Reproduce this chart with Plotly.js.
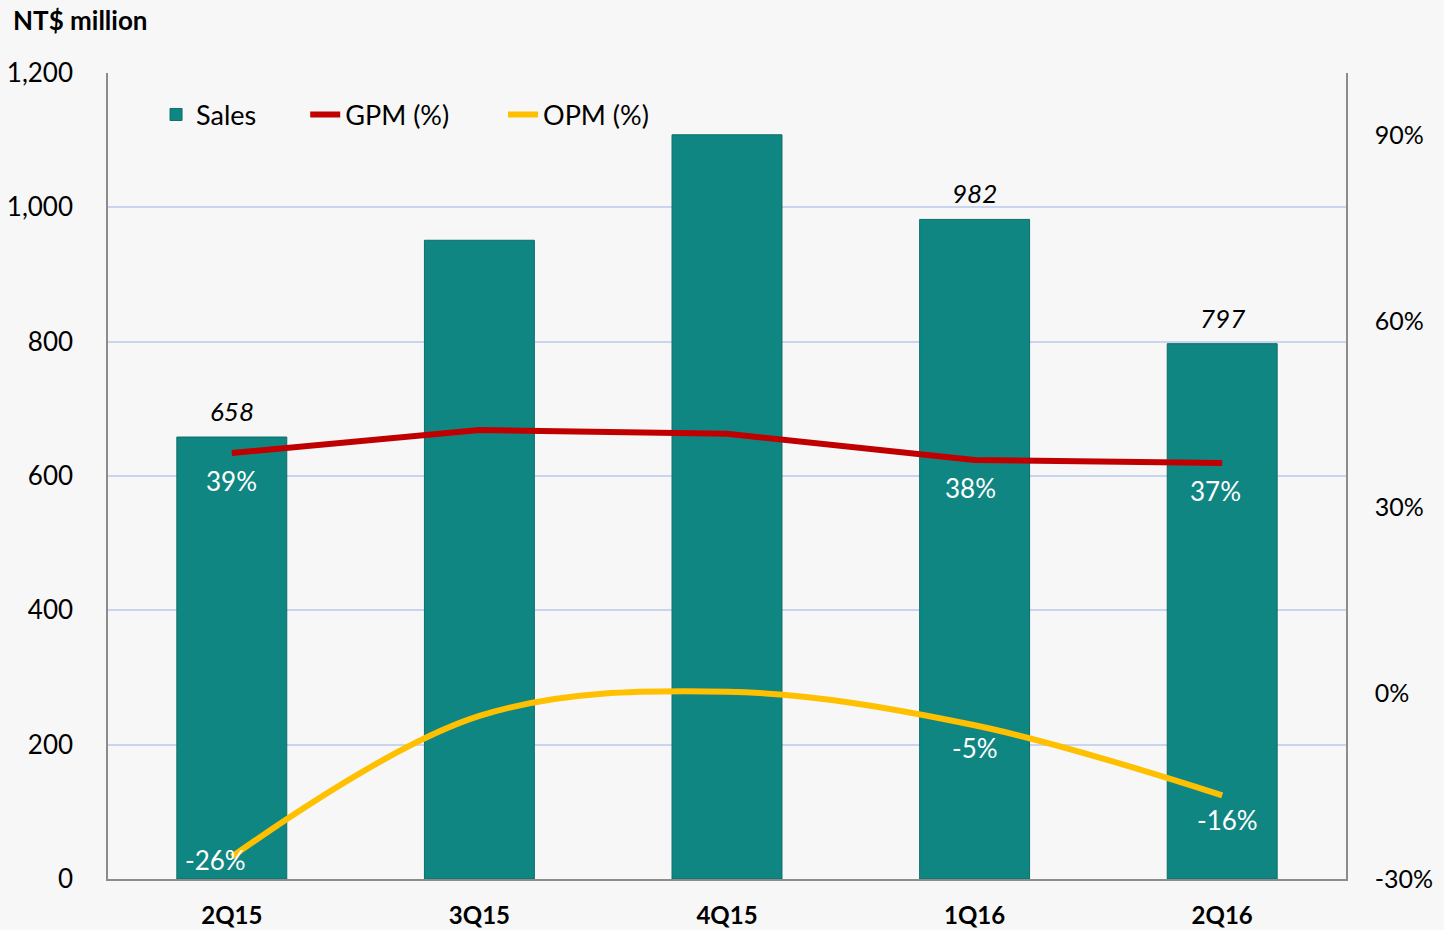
<!DOCTYPE html>
<html>
<head>
<meta charset="utf-8">
<script src="https://cdn.plot.ly/plotly-3.0.1.min.js"></script>
<style>html,body{margin:0;padding:0;background:#f7f7f7;}#chart{width:1444px;height:930px;}</style>
</head>
<body>
<div id="chart"></div>
<script>
const categories = ['2Q15', '3Q15', '4Q15', '1Q16', '2Q16'];
const sales = [658, 951, 1108, 982, 797];
const gpm = [38.7, 42.4, 41.8, 37.6, 37.1];
const opm = [-26.4, -3.7, 0.2, -5.2, -16.5];
const salesLabels = ['658', '', '', '982', '797'];
const gpmLabels = ['39%', '', '', '38%', '37%'];
const opmLabels = ['-26%', '', '', '-5%', '-16%'];
const leftTicks = [0, 200, 400, 600, 800, 1000, 1200];
const leftTickText = ['0', '200', '400', '600', '800', '1,000', '1,200'];
const rightTicks = [-30, 0, 30, 60, 90];
const rightTickText = ['-30%', '0%', '30%', '60%', '90%'];

const FONT = 'Lato, "Open Sans", sans-serif';

const traces = [
  {
    type: 'bar', name: 'Sales', x: categories, y: sales, legend: 'legend',
    marker: {color: '#108682', line: {color: '#0d6d68', width: 1}},
    hoverinfo: 'x+y'
  },
  {
    type: 'scatter', mode: 'lines', name: 'GPM (%)', x: categories, y: gpm, yaxis: 'y2', legend: 'legend2',
    line: {color: '#c00000', width: 6}
  },
  {
    type: 'scatter', mode: 'lines', name: 'OPM (%)', x: categories, y: opm, yaxis: 'y2', legend: 'legend3',
    line: {color: '#ffc000', width: 6, shape: 'spline', smoothing: 1}
  }
];

const annotations = [];
const gpmShift = [0, 0, 0, -4, -7];
categories.forEach((c, i) => {
  if (salesLabels[i]) annotations.push({
    x: c, y: sales[i], xref: 'x', yref: 'y', text: salesLabels[i], showarrow: false,
    yanchor: 'bottom', yshift: 8,
    font: {family: FONT, size: 26, color: '#000', style: 'italic'}
  });
  if (gpmLabels[i]) annotations.push({
    x: c, y: gpm[i], xref: 'x', yref: 'y2', text: gpmLabels[i], showarrow: false,
    yanchor: 'middle', yshift: -28, xshift: gpmShift[i],
    font: {family: FONT, size: 26, color: '#ffffff'}
  });
});
const opmShift = [[-16, -3], null, null, [0, -23], [5, -25]];
categories.forEach((c, i) => {
  if (opmLabels[i]) annotations.push({
    x: c, y: opm[i], xref: 'x', yref: 'y2', text: opmLabels[i], showarrow: false,
    yanchor: 'middle', xshift: opmShift[i][0], yshift: opmShift[i][1],
    font: {family: FONT, size: 26, color: '#ffffff'}
  });
});

function legendAt(x) {
  return {
    orientation: 'h', x: x, xanchor: 'left', y: 0.948, yanchor: 'middle',
    bgcolor: 'rgba(0,0,0,0)', font: {family: FONT, size: 27, color: '#000'}
  };
}

const layout = {
  width: 1444, height: 930,
  paper_bgcolor: '#f7f7f7', plot_bgcolor: '#f7f7f7',
  margin: {l: 108, r: 98, t: 73, b: 51},
  font: {family: FONT, color: '#000'},
  title: {
    text: '<b>NT$ million</b>', xref: 'container', yref: 'container',
    x: 13 / 1444, xanchor: 'left', y: 1 - 21 / 930, yanchor: 'middle',
    font: {family: FONT, size: 26, color: '#000'}
  },
  bargap: 0.556,
  showlegend: true,
  legend: legendAt(0.0388),
  legend2: legendAt(0.1593),
  legend3: legendAt(0.3191),
  xaxis: {
    type: 'category', showgrid: false, zeroline: false,
    showline: true, linecolor: '#8c8c8c', linewidth: 1.5,
    ticks: '', ticklabelstandoff: 14,
    tickfont: {family: FONT, size: 24, color: '#000', weight: 'bold'}
  },
  yaxis: {
    range: [0, 1200], tickvals: leftTicks, ticktext: leftTickText,
    showgrid: true, gridcolor: '#c9d5ee', gridwidth: 1.5,
    zeroline: false, showline: true, linecolor: '#8c8c8c', linewidth: 1.5,
    ticks: '', ticklabelstandoff: 28,
    tickfont: {family: FONT, size: 26, color: '#000'}
  },
  yaxis2: {
    overlaying: 'y', side: 'right', range: [-30, 100],
    tickvals: rightTicks, ticktext: rightTickText,
    showgrid: false, zeroline: false, showline: true, linecolor: '#8c8c8c', linewidth: 1.5,
    ticks: '', ticklabelstandoff: 22,
    tickfont: {family: FONT, size: 25, color: '#000'}
  },
  annotations: annotations
};

Plotly.newPlot('chart', traces, layout, {displayModeBar: false, responsive: false});
</script>
</body>
</html>
